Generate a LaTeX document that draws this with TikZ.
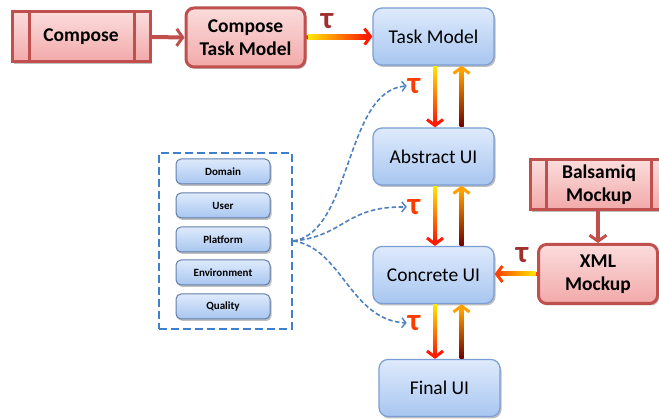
\documentclass[tikz,border=0pt]{standalone}
\usepackage{fontspec}
\setmainfont{Carlito}
\usetikzlibrary{arrows.meta,calc,shadows}
\definecolor{rbord}{HTML}{C0504D}
\definecolor{rtop}{HTML}{FBDCDC}
\definecolor{rbot}{HTML}{F2A9A9}
\definecolor{bbord}{HTML}{7B9FD4}
\definecolor{btop}{HTML}{DEEAFC}
\definecolor{bbot}{HTML}{A8C6F0}
\definecolor{dashblue}{HTML}{3F7FCC}
\definecolor{arcblue}{HTML}{4F81BD}
\definecolor{taured}{HTML}{FF3C00}
\definecolor{taudark}{HTML}{A0302E}
\definecolor{gyellow}{HTML}{FFE800}
\definecolor{gred}{HTML}{FF1A00}
\definecolor{gorange}{HTML}{FFA000}
\definecolor{gdark}{HTML}{6E0000}
\begin{document}
\begin{tikzpicture}[x=1pt,y=1pt,
  shad/.style={drop shadow={shadow xshift=1.5pt,shadow yshift=-2pt,opacity=0.25,fill=black}},
  redbox/.style={shad,draw=rbord,line width=3pt,top color=rtop,bottom color=rbot,
    rounded corners=8pt,minimum width=119pt,minimum height=59pt,align=center,inner sep=2pt,
    font=\fontsize{19.5}{23}\selectfont\bfseries},
  procbox/.style={redbox,rounded corners=0pt,minimum width=138pt,minimum height=50pt},
  bluebox/.style={shad,draw=bbord,line width=1.2pt,top color=btop,bottom color=bbot,
    rounded corners=9pt,minimum width=121pt,minimum height=57pt,
    font=\fontsize{19.5}{23}\selectfont},
  smallbox/.style={shad,draw=bbord!80!black,line width=1pt,top color=btop,bottom color=bbot,
    rounded corners=5pt,minimum width=94pt,minimum height=25pt,
    font=\fontsize{11}{12}\selectfont\bfseries},
  taulbl/.style={inner sep=1pt,font=\fontsize{31}{31}\selectfont\bfseries},
  redarr/.style={line width=4pt,rbord,-{Straight Barb[length=6pt,width=17pt,line width=3pt]}},
  gradarr/.style={line width=4pt,-{Straight Barb[length=6pt,width=16pt,line width=3pt]}},
  dasharc/.style={arcblue,line width=1.6pt,dash pattern=on 4.5pt off 2.5pt,
    -{Straight Barb[length=4pt,width=10pt,line width=1.4pt]}}
]
\clip (0,0) rectangle (659,420);
\fill[white] (0,0) rectangle (659,420);

% red boxes
\node[procbox] (compose) at (81,383) {Compose};
\draw[rbord,line width=3pt] ($(compose.north west)+(19,0)$) -- ($(compose.south west)+(19,0)$)
  ($(compose.north east)+(-17,0)$) -- ($(compose.south east)+(-17,0)$);
\node[redbox] (ctm) at (245.5,382.5) {Compose\\Task Model};
\node[procbox] (bal) at (599,235) {Balsamiq\\Mockup};
\draw[rbord,line width=3pt] ($(bal.north west)+(18,0)$) -- ($(bal.south west)+(18,0)$)
  ($(bal.north east)+(-18,0)$) -- ($(bal.south east)+(-18,0)$);
\node[redbox] (xml) at (598,146) {XML\\Mockup};

% blue boxes
\node[bluebox] (tm) at (433.5,383.5) {Task Model};
\node[bluebox] (aui) at (433.5,263.5) {Abstract UI};
\node[bluebox] (cui) at (433.5,145) {Concrete UI};
\node[bluebox] (fui) at (439.5,32) {Final UI};

% dashed context box
\node[draw=dashblue,line width=2.5pt,dash pattern=on 8pt off 4pt,
  minimum width=133pt,minimum height=176pt] (dbox) at (225.5,179) {};
\node[smallbox] (dom) at (223,248.5) {Domain};
\node[smallbox] (usr) at (223,214.5) {User};
\node[smallbox] (plt) at (223,180.5) {Platform};
\node[smallbox] (env) at (223,147.5) {Environment};
\node[smallbox] (qua) at (223,113.5) {Quality};

% tau labels
\node[taulbl,text=taudark] (t0) at (327,399) {τ};
\node[taulbl,text=taured] (t1) at (414,334) {τ};
\node[taulbl,text=taured] (t2) at (414,213) {τ};
\node[taulbl,text=taured] (t3) at (414,97) {τ};
\node[taulbl,text=taudark] (t4) at (522,165) {τ};

% red arrows
\draw[redarr] (compose.east) -- (ctm.west);
\draw[redarr] (bal.south -| xml.north) -- (xml.north);

% gradient arrow ctm -> tm
\draw[gradarr,gred] (ctm.east) -- (tm.west);
\shade[left color=gyellow,right color=gred] ($(ctm.east)+(1.5,-2)$) rectangle ($(tm.west)+(-5,2)$);

% xml -> cui
\draw[gradarr,color=gred!70!gorange] (xml.west) -- (xml.west -| cui.east);
\shade[left color=gred!60!gorange,right color=gyellow] ($(xml.west -| cui.east)+(5,-2)$) rectangle ($(xml.west)+(-1.5,2)$);

% vertical arrows
\foreach \a/\b in {tm/aui, aui/cui}{
  \draw[gradarr,gred] ($(\a.south)+(1.5,0)$) -- ($(\b.north)+(1.5,0)$);
  \shade[top color=gyellow,middle color=gorange!60!gred,bottom color=gred]
    ($(\a.south)+(-0.5,-0.6)$) rectangle ($(\b.north)+(3.5,5)$);
  \draw[gradarr,gorange] ($(\b.north)+(28,0)$) -- ($(\a.south)+(28,0)$);
  \shade[top color=gorange,middle color=gred,bottom color=gdark]
    ($(\a.south)+(26,-5)$) rectangle ($(\b.north)+(30,0.6)$);
}
\coordinate (dn1) at ($(cui.south)+(1.5,0)$);
\coordinate (dn2) at (dn1 |- fui.north);
\coordinate (up1) at ($(cui.south)+(28,0)$);
\coordinate (up2) at (up1 |- fui.north);
\draw[gradarr,gred] (dn1) -- (dn2);
\shade[top color=gyellow,middle color=gorange!60!gred,bottom color=gred]
  ($(dn1)+(-2,-0.6)$) rectangle ($(dn2)+(2,5)$);
\draw[gradarr,gorange] (up2) -- (up1);
\shade[top color=gorange,middle color=gred,bottom color=gdark]
  ($(up1)+(-2,-5)$) rectangle ($(up2)+(2,0.6)$);

% dashed arcs
\draw[dasharc] (dbox.east) .. controls (352,188) and (345,330) .. (t1.west);
\draw[dasharc] (dbox.east) .. controls (345,184) and (345,214) .. (t2.west);
\draw[dasharc] (dbox.east) .. controls (342,172) and (350,100) .. (t3.west);
\end{tikzpicture}
\end{document}
